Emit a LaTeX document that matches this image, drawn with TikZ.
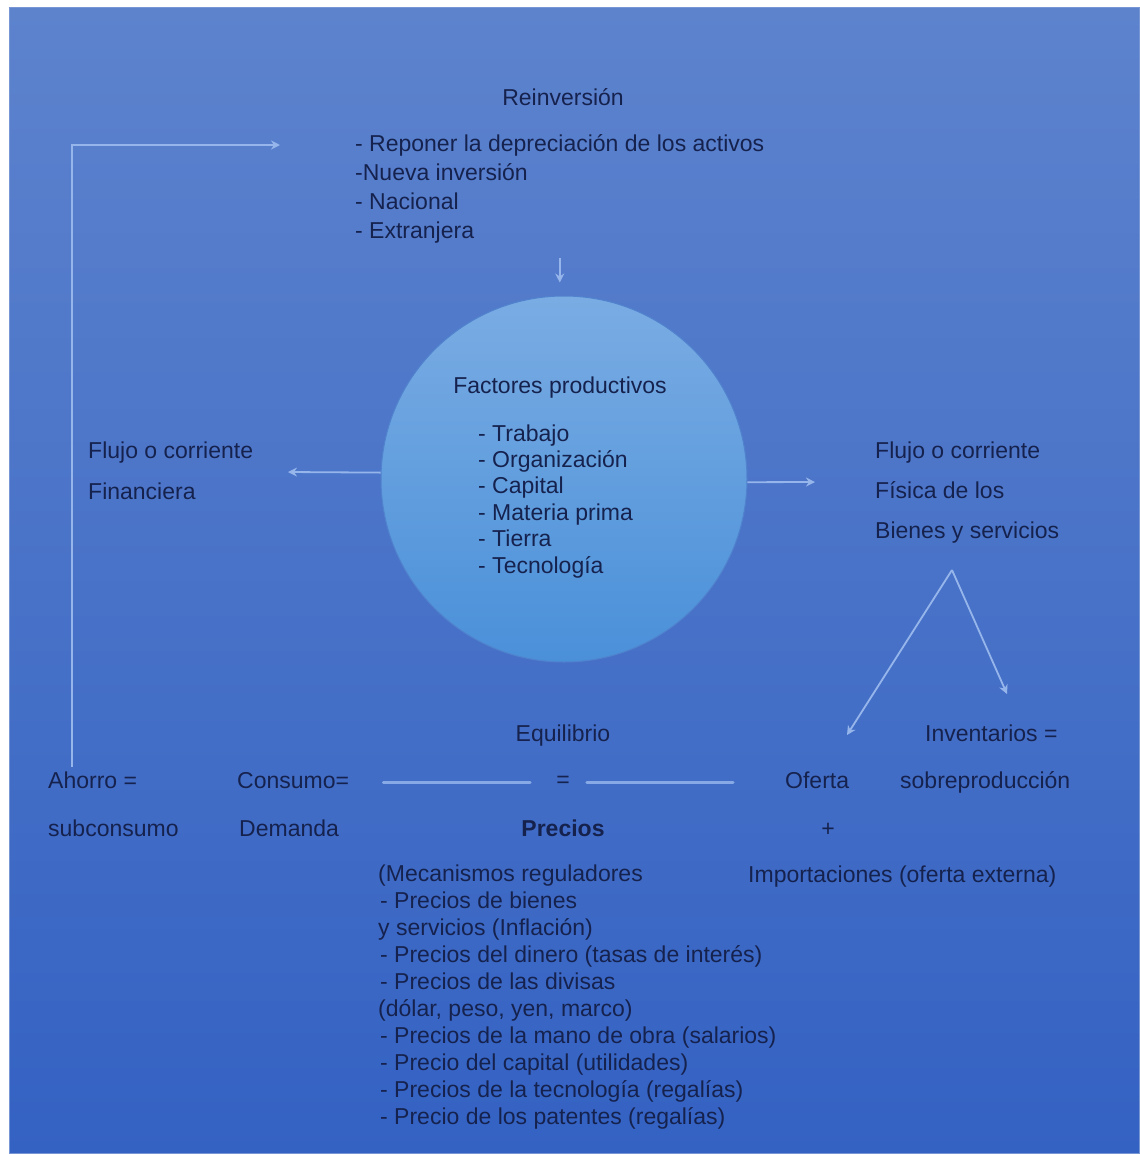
\documentclass[tikz,border=0pt]{standalone}
\usepackage{fontspec}
\setmainfont{Liberation Sans}
\usetikzlibrary{arrows.meta}
\definecolor{bgtop}{RGB}{93,131,205}
\definecolor{bgbot}{RGB}{52,98,195}
\definecolor{bgedge}{RGB}{120,150,212}
\definecolor{txt}{RGB}{22,34,78}
\definecolor{arrc}{RGB}{150,182,235}
\definecolor{eqc}{RGB}{135,170,230}
\definecolor{ctop}{RGB}{122,172,227}
\definecolor{cbot}{RGB}{74,144,217}
\definecolor{crim}{RGB}{80,130,205}
\begin{document}
\begin{tikzpicture}[x=1pt,y=-1pt,
  lbl/.style={text=txt, font=\fontsize{23}{27}\selectfont, inner sep=0pt, align=left},
  arr/.style={draw=arrc, line width=1.8pt, -{Stealth[length=9pt,width=9pt]}},
  eqline/.style={draw=eqc, line width=3pt, line cap=round}]
\useasboundingbox (0,0) rectangle (1140,1154);
\fill[white] (0,0) rectangle (1140,1154);
\shade[top color=bgtop, bottom color=bgbot] (9,7) rectangle (1140,1154);
\draw[draw=bgedge, line width=1pt] (9.5,7.5) rectangle (1139.5,1153.5);

% central circle
\node[circle, minimum size=366pt, inner sep=0pt, draw=crim, line width=1pt,
      top color=ctop, bottom color=cbot] (fp) at (564,479) {};

% top block (multi-line nodes: base anchor = last line's baseline)
\node[lbl, anchor=base] (reinv) at (563,105) {Reinversión};
\node[lbl, anchor=base west, font=\fontsize{23}{29}\selectfont] (topl) at (355,238)
  {- Reponer la depreciación de los activos\\-Nueva inversión\\- Nacional\\- Extranjera};

% circle text
\node[lbl, anchor=base] (fptitle) at (560,393) {Factores productivos};
\node[lbl, anchor=base west, font=\fontsize{23}{26.4}\selectfont] (fplist) at (478,573)
  {- Trabajo\\- Organización\\- Capital\\- Materia prima\\- Tierra\\- Tecnología};

% side flows
\node[lbl, anchor=base west, font=\fontsize{23}{41}\selectfont] (finl) at (88,499)
  {Flujo o corriente\\Financiera};
\node[lbl, anchor=base west, font=\fontsize{23}{40}\selectfont] (fisr) at (875,538)
  {Flujo o corriente\\Física de los\\Bienes y servicios};

% right lower
\node[lbl, anchor=base west] (invent) at (925,741) {Inventarios =};
\node[lbl, anchor=base west] (sobre) at (900,788) {sobreproducción};
\node[lbl, anchor=base west] (oferta) at (785,788) {Oferta};
\node[lbl, anchor=base] (plus) at (828,836) {+};
\node[lbl, anchor=base west] (import) at (748,882) {Importaciones (oferta externa)};

% centre lower
\node[lbl, anchor=base] (equil) at (563,741) {Equilibrio};
\node[lbl, anchor=center] (eq) at (563,782) {=};
\node[lbl, anchor=base, font=\fontsize{23}{27}\selectfont\bfseries] (precios) at (563,836) {Precios};

% left lower
\node[lbl, anchor=base west, font=\fontsize{23}{48}\selectfont] (ahorro) at (48,836) {Ahorro =\\subconsumo};
\node[lbl, anchor=base west, font=\fontsize{23}{48}\selectfont] (consumo) at (237,836) {Consumo=\\\hspace*{2pt}Demanda};

% mechanisms
\node[lbl, anchor=base west, font=\fontsize{23}{26.9}\selectfont] (mec) at (378,1124)
  {(Mecanismos reguladores\\
   \hspace*{2pt}- Precios de bienes\\
   y servicios (Inflación)\\
   \hspace*{2pt}- Precios del dinero (tasas de interés)\\
   \hspace*{2pt}- Precios de las divisas\\
   (dólar, peso, yen, marco)\\
   \hspace*{2pt}- Precios de la mano de obra (salarios)\\
   \hspace*{2pt}- Precio del capital (utilidades)\\
   \hspace*{2pt}- Precios de la tecnología (regalías)\\
   \hspace*{2pt}- Precio de los patentes (regalías)};

% free ends
\coordinate (la) at (288,472);
\coordinate (ra) at (815,482);
\coordinate (apex) at (952,570);
\coordinate (toOf) at (847,735);
\coordinate (toInv) at (1007,694);
\coordinate (loopstart) at (72,767);
\coordinate (loopend) at (280,145);

% connectors
\draw[arr, shorten >=13pt] (topl.south |- 0,258) -- (topl.south |- fp.north);
\draw[arr] (fp.178) -- (la);
\draw[arr] (fp.359) -- (ra);
\draw[arr] (apex) -- (toOf);
\draw[arr] (apex) -- (toInv);
\draw[arr, line width=1.6pt] (loopstart) |- (loopend);
\draw[eqline, shorten <=34pt, shorten >=26pt] (consumo.east |- eq.center) -- (eq.west);
\draw[eqline, shorten <=17pt, shorten >=52pt] (eq.east) -- (oferta.west |- eq.center);
\end{tikzpicture}
\end{document}
